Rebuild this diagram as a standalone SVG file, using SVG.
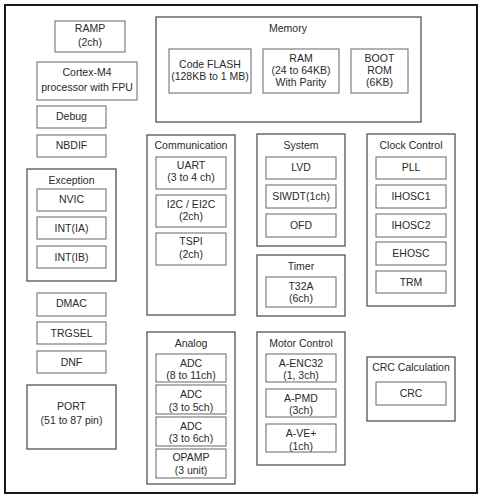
<svg xmlns="http://www.w3.org/2000/svg" width="489" height="500" viewBox="0 0 489 500">
<style>
rect{fill:#fff}
.frame{stroke:#1a1a1a;stroke-width:2}
.grp{stroke:#444;stroke-width:1.2}
.box{stroke:#666;stroke-width:1}
text{font-family:"Liberation Sans",Arial,sans-serif;font-size:10.5px;fill:#2a2a2a;text-anchor:middle;dominant-baseline:central}
</style>
<rect width="489" height="500" fill="#fff"/>
<g id="chip"><rect class="frame" x="5" y="5" width="472" height="488"/></g>

<g id="ramp"><rect class="box" x="55" y="21" width="70" height="31"/><text x="90" y="28">RAMP</text><text x="90" y="42">(2ch)</text></g>
<g id="cortex"><rect class="box" x="37" y="62" width="100" height="38"/><text x="87" y="72">Cortex-M4</text><text x="87" y="87">processor with FPU</text></g>
<g id="debug"><rect class="box" x="37" y="106" width="69" height="22"/><text x="71.5" y="116">Debug</text></g>
<g id="nbdif"><rect class="box" x="37" y="135" width="69" height="22"/><text x="71.5" y="145">NBDIF</text></g>

<g id="exception"><rect class="grp" x="27" y="169" width="89" height="112"/><text x="71.5" y="180">Exception</text>
<g id="nvic"><rect class="box" x="37" y="189" width="69" height="22"/><text x="71.5" y="199">NVIC</text></g>
<g id="intia"><rect class="box" x="37" y="217" width="69" height="22"/><text x="71.5" y="228">INT(IA)</text></g>
<g id="intib"><rect class="box" x="37" y="246" width="69" height="22"/><text x="71.5" y="257">INT(IB)</text></g>
</g>
<g id="dmac"><rect class="box" x="37" y="293" width="69" height="23"/><text x="71.5" y="303">DMAC</text></g>
<g id="trgsel"><rect class="box" x="37" y="322" width="69" height="22"/><text x="71.5" y="333">TRGSEL</text></g>
<g id="dnf"><rect class="box" x="37" y="351" width="69" height="22"/><text x="71.5" y="362">DNF</text></g>
<g id="port"><rect class="grp" x="27" y="385" width="89" height="64"/><text x="71.5" y="406">PORT</text><text x="71.5" y="420">(51 to 87 pin)</text></g>

<g id="memory"><rect class="grp" x="156" y="17" width="265" height="105"/><text x="288" y="28">Memory</text>
<g id="flash"><rect class="box" x="169" y="49" width="82" height="44"/><text x="210" y="64">Code FLASH</text><text x="210" y="76">(128KB to 1 MB)</text></g>
<g id="ram"><rect class="box" x="263" y="49" width="76" height="44"/><text x="301" y="58">RAM</text><text x="301" y="70">(24 to 64KB)</text><text x="301" y="82">With Parity</text></g>
<g id="bootrom"><rect class="box" x="351" y="49" width="57" height="44"/><text x="379.5" y="58">BOOT</text><text x="379.5" y="70">ROM</text><text x="379.5" y="82">(6KB)</text></g>
</g>

<g id="communication"><rect class="grp" x="147" y="135" width="88" height="180"/><text x="191" y="145">Communication</text>
<g id="uart"><rect class="box" x="156" y="157" width="70" height="32"/><text x="191" y="165">UART</text><text x="191" y="177">(3 to 4 ch)</text></g>
<g id="i2c"><rect class="box" x="156" y="195" width="70" height="32"/><text x="191" y="204">I2C / EI2C</text><text x="191" y="216">(2ch)</text></g>
<g id="tspi"><rect class="box" x="156" y="233" width="70" height="32"/><text x="191" y="241">TSPI</text><text x="191" y="254">(2ch)</text></g>
</g>

<g id="system"><rect class="grp" x="257" y="134" width="88" height="112"/><text x="301" y="145">System</text>
<g id="lvd"><rect class="box" x="266" y="157" width="70" height="22"/><text x="301" y="167">LVD</text></g>
<g id="siwdt"><rect class="box" x="266" y="185" width="70" height="23"/><text x="301" y="196">SIWDT(1ch)</text></g>
<g id="ofd"><rect class="box" x="266" y="214" width="70" height="23"/><text x="301" y="225">OFD</text></g>
</g>

<g id="timer"><rect class="grp" x="257" y="255" width="88" height="61"/><text x="301" y="266">Timer</text>
<g id="t32a"><rect class="box" x="266" y="277" width="70" height="30"/><text x="301" y="286">T32A</text><text x="301" y="298">(6ch)</text></g>
</g>

<g id="clock"><rect class="grp" x="367" y="134" width="88" height="172"/><text x="411" y="145">Clock Control</text>
<g id="pll"><rect class="box" x="376" y="157" width="70" height="22"/><text x="411" y="167">PLL</text></g>
<g id="ihosc1"><rect class="box" x="376" y="185" width="70" height="23"/><text x="411" y="196">IHOSC1</text></g>
<g id="ihosc2"><rect class="box" x="376" y="214" width="70" height="23"/><text x="411" y="225">IHOSC2</text></g>
<g id="ehosc"><rect class="box" x="376" y="242" width="70" height="23"/><text x="411" y="253">EHOSC</text></g>
<g id="trm"><rect class="box" x="376" y="271" width="70" height="22"/><text x="411" y="282">TRM</text></g>
</g>

<g id="analog"><rect class="grp" x="147" y="332" width="88" height="152"/><text x="191" y="343">Analog</text>
<g id="adc1"><rect class="box" x="156" y="354" width="70" height="28"/><text x="191" y="363">ADC</text><text x="191" y="375">(8 to 11ch)</text></g>
<g id="adc2"><rect class="box" x="156" y="385" width="70" height="29"/><text x="191" y="394">ADC</text><text x="191" y="407">(3 to 5ch)</text></g>
<g id="adc3"><rect class="box" x="156" y="417" width="70" height="29"/><text x="191" y="426">ADC</text><text x="191" y="438">(3 to 6ch)</text></g>
<g id="opamp"><rect class="box" x="156" y="449" width="70" height="29"/><text x="191" y="457">OPAMP</text><text x="191" y="470">(3 unit)</text></g>
</g>

<g id="motor"><rect class="grp" x="257" y="332" width="88" height="133"/><text x="301" y="343">Motor Control</text>
<g id="aenc32"><rect class="box" x="266" y="354" width="70" height="28"/><text x="301" y="363">A-ENC32</text><text x="301" y="375">(1, 3ch)</text></g>
<g id="apmd"><rect class="box" x="266" y="389" width="70" height="28"/><text x="301" y="398">A-PMD</text><text x="301" y="410">(3ch)</text></g>
<g id="ave"><rect class="box" x="266" y="424" width="70" height="28"/><text x="301" y="433">A-VE+</text><text x="301" y="446">(1ch)</text></g>
</g>

<g id="crccalc"><rect class="grp" x="367" y="357" width="88" height="64"/><text x="411" y="367">CRC Calculation</text>
<g id="crc"><rect class="box" x="376" y="382" width="70" height="23"/><text x="411" y="393">CRC</text></g>
</g>
<g id="connectors"></g>
</svg>
